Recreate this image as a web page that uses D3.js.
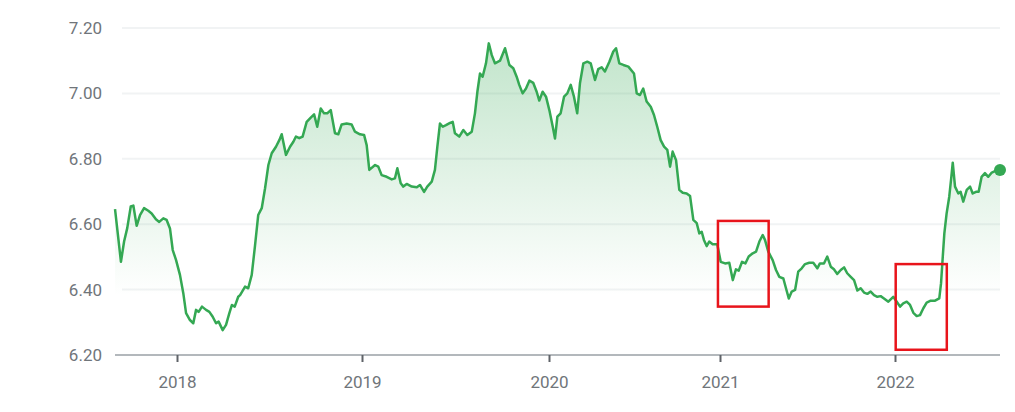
<!DOCTYPE html>
<html>
<head>
<meta charset="utf-8">
<script src="https://cdn.jsdelivr.net/npm/d3@7"></script>
<style>
  body { margin: 0; background: #fff; }
  #chart { width: 1015px; height: 412px; }
</style>
</head>
<body>
<div id="chart"></div>
<script>
// tick labels
const yearTicks = [2018, 2019, 2020, 2021, 2022];
const tickLabels = ["2018", "2019", "2020", "2021", "2022"];
const priceTicks = [6.2, 6.4, 6.6, 6.8, 7.0, 7.2];

// sample times (fractional years) and prices
const times = [
  2017.665, 2017.697, 2017.714, 2017.731, 2017.750, 2017.764, 2017.782, 2017.800, 2017.822, 2017.845,
  2017.863, 2017.886, 2017.904, 2017.926, 2017.944, 2017.962, 2017.977, 2017.995,
  // 2018
  2018.016, 2018.034, 2018.049, 2018.070, 2018.088, 2018.103, 2018.117, 2018.135, 2018.157, 2018.175,
  2018.193, 2018.211, 2018.225, 2018.247, 2018.265, 2018.283, 2018.297, 2018.312, 2018.331, 2018.341,
  2018.368, 2018.385, 2018.404, 2018.422, 2018.439, 2018.458, 2018.476, 2018.494, 2018.512, 2018.535,
  2018.553, 2018.566, 2018.589, 2018.611, 2018.629, 2018.643, 2018.661, 2018.679, 2018.701, 2018.723,
  2018.741, 2018.758, 2018.777, 2018.795, 2018.812, 2018.831, 2018.854, 2018.872, 2018.890, 2018.917,
  2018.944, 2018.962, 2018.989,
  // 2019
  2019.011, 2019.025, 2019.039, 2019.070, 2019.087, 2019.105, 2019.132, 2019.159, 2019.176, 2019.189,
  2019.207, 2019.221, 2019.239, 2019.266, 2019.293, 2019.310, 2019.332, 2019.349, 2019.373, 2019.390,
  2019.403, 2019.417, 2019.432, 2019.449, 2019.471, 2019.485, 2019.497, 2019.520, 2019.542, 2019.563,
  2019.587, 2019.604, 2019.617, 2019.631, 2019.645, 2019.663, 2019.678, 2019.694, 2019.711, 2019.738,
  2019.765, 2019.788, 2019.809, 2019.827, 2019.841, 2019.859, 2019.877, 2019.895, 2019.916, 2019.934,
  2019.948, 2019.966, 2019.984,
  // 2020
  2020.002, 2020.022, 2020.035, 2020.049, 2020.068, 2020.088, 2020.107, 2020.127, 2020.146, 2020.165,
  2020.181, 2020.201, 2020.224, 2020.244, 2020.269, 2020.288, 2020.308, 2020.327, 2020.353, 2020.376,
  2020.392, 2020.411, 2020.435, 2020.464, 2020.497, 2020.513, 2020.532, 2020.551, 2020.571, 2020.595,
  2020.614, 2020.633, 2020.653, 2020.673, 2020.692, 2020.708, 2020.723, 2020.743, 2020.762, 2020.782,
  2020.805, 2020.825, 2020.844, 2020.864, 2020.879, 2020.893, 2020.906, 2020.922, 2020.937, 2020.957,
  2020.984,
  // 2021
  2021.004, 2021.029, 2021.053, 2021.073, 2021.091, 2021.107, 2021.126, 2021.145, 2021.164, 2021.187,
  2021.206, 2021.225, 2021.244, 2021.257, 2021.276, 2021.301, 2021.320, 2021.339, 2021.362, 2021.377,
  2021.393, 2021.410, 2021.429, 2021.447, 2021.467, 2021.486, 2021.510, 2021.533, 2021.556, 2021.571,
  2021.594, 2021.613, 2021.633, 2021.651, 2021.670, 2021.690, 2021.709, 2021.727, 2021.747, 2021.766,
  2021.785, 2021.804, 2021.823, 2021.842, 2021.861, 2021.880, 2021.899, 2021.918, 2021.937, 2021.962,
  2021.990,
  // 2022
  2022.010, 2022.029, 2022.047, 2022.067, 2022.086, 2022.105, 2022.124, 2022.143, 2022.162, 2022.181,
  2022.204, 2022.229, 2022.253, 2022.263, 2022.273, 2022.282, 2022.295, 2022.310, 2022.322, 2022.330,
  2022.343, 2022.362, 2022.375, 2022.390, 2022.410, 2022.429, 2022.444, 2022.463, 2022.478, 2022.495,
  2022.514, 2022.533, 2022.553, 2022.577, 2022.600
];

const prices = [
  6.646, 6.485, 6.547, 6.588, 6.654, 6.657, 6.595, 6.628, 6.649, 6.641,
  6.633, 6.615, 6.607, 6.618, 6.613, 6.587, 6.521, 6.490,
  // 2018
  6.445, 6.389, 6.328, 6.307, 6.297, 6.338, 6.332, 6.348, 6.338, 6.332,
  6.317, 6.297, 6.302, 6.276, 6.292, 6.328, 6.353, 6.348, 6.378, 6.383,
  6.409, 6.404, 6.445, 6.536, 6.628, 6.649, 6.710, 6.781, 6.817, 6.837,
  6.857, 6.875, 6.812, 6.837, 6.852, 6.868, 6.863, 6.868, 6.913, 6.926,
  6.936, 6.898, 6.954, 6.939, 6.939, 6.949, 6.878, 6.875, 6.905, 6.908,
  6.905, 6.883, 6.875,
  // 2019
  6.873, 6.842, 6.766, 6.781, 6.776, 6.750, 6.745, 6.737, 6.740, 6.771,
  6.725, 6.715, 6.723, 6.715, 6.713, 6.720, 6.699, 6.715, 6.730, 6.766,
  6.837, 6.908, 6.898, 6.903, 6.910, 6.913, 6.878, 6.868, 6.888, 6.873,
  6.883, 6.939, 7.005, 7.061, 7.051, 7.092, 7.153, 7.117, 7.092, 7.100,
  7.138, 7.087, 7.077, 7.051, 7.026, 7.000, 7.015, 7.039, 7.032, 7.005,
  6.978, 7.005, 6.990,
  // 2020
  6.949, 6.898, 6.862, 6.929, 6.939, 6.990, 7.000, 7.026, 6.990, 6.939,
  7.031, 7.092, 7.097, 7.092, 7.041, 7.074, 7.080, 7.067, 7.097, 7.128,
  7.138, 7.092, 7.087, 7.082, 7.061, 7.000, 6.995, 7.015, 6.975, 6.959,
  6.934, 6.898, 6.857, 6.837, 6.827, 6.776, 6.822, 6.796, 6.705, 6.696,
  6.694, 6.686, 6.613, 6.603, 6.572, 6.577, 6.552, 6.533, 6.547, 6.539,
  6.539,
  // 2021
  6.485, 6.480, 6.482, 6.429, 6.462, 6.458, 6.485, 6.480, 6.501, 6.511,
  6.516, 6.547, 6.567, 6.552, 6.516, 6.490, 6.460, 6.439, 6.434, 6.404,
  6.373, 6.394, 6.399, 6.455, 6.465, 6.478, 6.482, 6.482, 6.465, 6.480,
  6.480, 6.501, 6.470, 6.462, 6.448, 6.460, 6.468, 6.450, 6.439, 6.429,
  6.397, 6.404, 6.391, 6.387, 6.394, 6.383, 6.378, 6.380, 6.373, 6.363,
  6.378,
  // 2022
  6.363, 6.348, 6.358, 6.363, 6.353, 6.329, 6.319, 6.322, 6.343, 6.360,
  6.366, 6.366, 6.373, 6.419, 6.501, 6.572, 6.633, 6.684, 6.745, 6.788,
  6.715, 6.694, 6.699, 6.669, 6.705, 6.715, 6.694, 6.699, 6.699, 6.745,
  6.756, 6.745, 6.758, 6.764, 6.766
];

// red highlight boxes, in data units
const boxTimes = [[2020.988, 2021.278], [2022.004, 2022.296]];
const boxPrices = [[6.348, 6.610], [6.216, 6.478]];

const data = times.map((t, i) => ({ t: t, v: prices[i] }));

const margin = { top: 28, right: 15, bottom: 57, left: 115 },
  width = 1015 - margin.left - margin.right,
  height = 412 - margin.top - margin.bottom;

const svg = d3.select("#chart")
  .append("svg")
  .attr("width", width + margin.left + margin.right)
  .attr("height", height + margin.top + margin.bottom)
  .style("font-family", "Roboto, Arial, sans-serif")
  .append("g")
  .attr("transform", `translate(${margin.left},${margin.top})`);

// the years are not evenly spaced in the original, so piecewise scale
const x = d3.scaleLinear()
  .domain(yearTicks)
  .range([62, 247, 434, 605, 780]);

const y = d3.scaleLinear()
  .domain([6.2, 7.2])
  .range([height, 0]);

const green = "#34a853";

// gridlines
svg.append("g")
  .selectAll("line")
  .data(priceTicks.slice(1))
  .join("line")
  .attr("x1", 7)
  .attr("x2", width)
  .attr("y1", d => y(d))
  .attr("y2", d => y(d))
  .attr("stroke", "#f1f3f4")
  .attr("stroke-width", 2);

// gradient for the area
const grad = svg.append("defs").append("linearGradient")
  .attr("id", "fade")
  .attr("gradientUnits", "userSpaceOnUse")
  .attr("x1", 0).attr("x2", 0)
  .attr("y1", y(7.15)).attr("y2", y(6.38));
grad.append("stop").attr("offset", 0).attr("stop-color", green).attr("stop-opacity", 0.3);
grad.append("stop").attr("offset", 1).attr("stop-color", green).attr("stop-opacity", 0);

svg.append("path")
  .datum(data)
  .attr("fill", "url(#fade)")
  .attr("d", d3.area()
    .x(d => x(d.t))
    .y0(height)
    .y1(d => y(d.v)));

// Y axis labels
const yAxis = svg.append("g")
  .call(d3.axisLeft(y).tickValues(priceTicks).tickFormat(d3.format(".2f")).tickSize(0).tickPadding(13));
yAxis.select(".domain").remove();
yAxis.selectAll("text")
  .style("font-size", "17px")
  .style("font-family", "Roboto, Arial, sans-serif")
  .attr("fill", "#70757a");

// X axis
svg.append("line")
  .attr("x1", 0)
  .attr("x2", width)
  .attr("y1", height)
  .attr("y2", height)
  .attr("stroke", "#9aa0a6")
  .attr("stroke-width", 1.5);

const xAxis = svg.append("g")
  .attr("transform", `translate(0,${height})`)
  .call(d3.axisBottom(x).tickValues(yearTicks).tickFormat((d, i) => tickLabels[i]).tickSize(7).tickPadding(14));
xAxis.select(".domain").remove();
xAxis.selectAll("line").attr("stroke", "#5f6368").attr("stroke-width", 2);
xAxis.selectAll("text")
  .style("font-size", "17px")
  .style("font-family", "Roboto, Arial, sans-serif")
  .attr("fill", "#70757a");

// price line
svg.append("path")
  .datum(data)
  .attr("fill", "none")
  .attr("stroke", green)
  .attr("stroke-width", 2.5)
  .attr("stroke-linejoin", "round")
  .attr("d", d3.line()
    .x(d => x(d.t))
    .y(d => y(d.v)));

// end dot
const last = data[data.length - 1];
svg.append("circle")
  .attr("cx", x(last.t))
  .attr("cy", y(last.v))
  .attr("r", 6)
  .attr("fill", green);

// highlight boxes
svg.append("g")
  .selectAll("rect")
  .data(boxTimes)
  .join("rect")
  .attr("x", d => x(d[0]))
  .attr("width", d => x(d[1]) - x(d[0]))
  .attr("y", (d, i) => y(boxPrices[i][1]))
  .attr("height", (d, i) => y(boxPrices[i][0]) - y(boxPrices[i][1]))
  .attr("fill", "none")
  .attr("stroke", "#e8141b")
  .attr("stroke-width", 2.5);
</script>
</body>
</html>
